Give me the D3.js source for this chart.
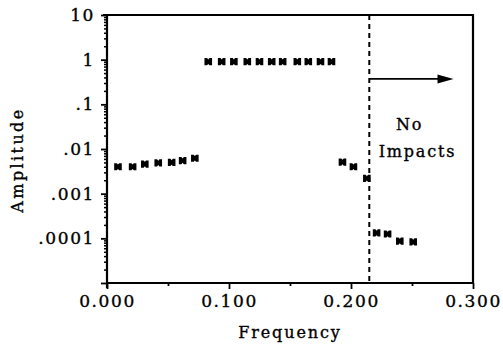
<!DOCTYPE html>
<html>
<head>
<meta charset="utf-8">
<script src="https://cdn.jsdelivr.net/npm/d3@7"></script>
<style>
  html, body { margin: 0; padding: 0; background: #fff; }
  svg { display: block; }
  text { font-family: "DejaVu Serif", serif; fill: #000; stroke: #000; stroke-width: 0.35px; }
</style>
</head>
<body>
<svg id="chart" width="503" height="347"></svg>
<script>
// ---- data ----
const frequency = [0.009, 0.021, 0.031, 0.042, 0.053, 0.062, 0.072,
  0.083, 0.094, 0.104, 0.115, 0.125, 0.135, 0.144, 0.156, 0.165, 0.175, 0.184,
  0.193, 0.202, 0.213,
  0.221, 0.230, 0.240, 0.251];
const amplitude = [0.0040, 0.0040, 0.0046, 0.0049, 0.0050, 0.0055, 0.0062,
  0.9, 0.9, 0.9, 0.9, 0.9, 0.9, 0.9, 0.9, 0.9, 0.9, 0.9,
  0.0051, 0.0040, 0.0022,
  0.000132, 0.000125, 0.000087, 0.000083];
const xTickValues = [0, 0.1, 0.2, 0.3];
const xTickLabels = ["0.000", "0.100", "0.200", "0.300"];
const xMinorTicks = [0.05, 0.15, 0.25];
const yTickValues = [10, 1, 0.1, 0.01, 0.001, 0.0001];
const yTickLabels = ["10", "1", ".1", ".01", ".001", ".0001"];
const cutoffFrequency = 0.215;
const arrowFrom = 0.215, arrowTo = 0.284, arrowAmp = 0.37;
const noteLines = ["No", "Impacts"];
const noteX = [0.248, 0.2545];
const noteY = [0.0267, 0.0066];

// ---- layout ----
const svg = d3.select("#chart");
const x = d3.scaleLinear().domain([0, 0.3]).range([107, 473]);
const y = d3.scaleLog().domain([1e-5, 10]).range([283, 15]);

// minor log ticks
const yMinor = [];
for (let e = -5; e < 1; e++) for (let m = 2; m <= 9; m++) yMinor.push(m * Math.pow(10, e));

const g = svg.append("g");

// Y axis minor
g.append("g").attr("transform", `translate(${x(0)},0)`)
  .call(d3.axisLeft(y).tickValues(yMinor).tickSize(3).tickFormat(""))
  .call(s => s.select(".domain").remove())
  .call(s => s.selectAll("line").attr("stroke", "#000").attr("stroke-width", 1.5));

// Y axis major
g.append("g").attr("transform", `translate(${x(0)},0)`)
  .call(d3.axisLeft(y).tickValues([1e-5].concat(yTickValues)).tickSize(6).tickPadding(6)
    .tickFormat(d => { const i = yTickValues.indexOf(d); return i < 0 ? "" : yTickLabels[i]; }))
  .call(s => s.select(".domain").attr("stroke", "#000").attr("stroke-width", 2.2).attr("d", `M0,${y(1e-5) + 5}V${y(10)}`))
  .call(s => s.selectAll("line").attr("stroke", "#000").attr("stroke-width", 1.8))
  .call(s => s.selectAll("text").style("font-size", "17px").style("letter-spacing", "1.6px")
     .style("font-family", "DejaVu Serif").attr("fill", "#000"));

// X axis
g.append("g").attr("transform", `translate(0,${y(1e-5)})`)
  .call(d3.axisBottom(x).tickValues(xTickValues).tickSize(6).tickPadding(6)
    .tickFormat((d, i) => xTickLabels[i]))
  .call(s => s.select(".domain").attr("stroke", "#000").attr("stroke-width", 2.2).attr("d", `M${x(0)},0H${x(0.3)}`))
  .call(s => s.selectAll("line").attr("stroke", "#000").attr("stroke-width", 1.8))
  .call(s => s.selectAll("text").style("font-size", "17px").style("letter-spacing", "1.6px")
     .style("font-family", "DejaVu Serif").attr("fill", "#000"));

g.append("g").attr("transform", `translate(0,${y(1e-5)})`)
  .call(d3.axisBottom(x).tickValues(xMinorTicks).tickSize(3).tickFormat(""))
  .call(s => s.select(".domain").remove())
  .call(s => s.selectAll("line").attr("stroke", "#000").attr("stroke-width", 1.8));

// frame top & right
g.append("path")
  .attr("d", `M${x(0) - 4},${y(10)}H${x(0.3)}V${y(1e-5)}`)
  .attr("fill", "none").attr("stroke", "#000").attr("stroke-width", 2.2);

// cutoff dashed line
g.append("line")
  .attr("x1", x(cutoffFrequency)).attr("x2", x(cutoffFrequency))
  .attr("y1", y(10)).attr("y2", y(1e-5))
  .attr("stroke", "#000").attr("stroke-width", 2).attr("stroke-dasharray", "5,4");

// arrow
g.append("line")
  .attr("x1", x(arrowFrom)).attr("x2", x(arrowTo) - 10)
  .attr("y1", y(arrowAmp)).attr("y2", y(arrowAmp))
  .attr("stroke", "#000").attr("stroke-width", 1.8);
g.append("path")
  .attr("d", `M${x(arrowTo)},${y(arrowAmp)}l-16,-4.5l0,9z`)
  .attr("fill", "#000");

// markers (notched block shape)
const marker = "M-3.8,-3.6L-1.2,-3.6L0,-2.2L1.2,-3.6L3.8,-3.6L3.8,3.6L1.2,3.6L0,2.2L-1.2,3.6L-3.8,3.6Z";
g.append("g").selectAll("path").data(frequency.map((f, i) => [f, amplitude[i]]))
  .join("path")
  .attr("transform", d => `translate(${x(d[0])},${y(d[1])})`)
  .attr("d", marker).attr("fill", "#000");

// annotation
g.append("g").selectAll("text").data(noteLines).join("text")
  .attr("x", (d, i) => x(noteX[i])).attr("y", (d, i) => y(noteY[i]))
  .attr("text-anchor", "middle")
  .style("font-size", "16px").style("letter-spacing", "1.8px")
  .text(d => d);

// axis titles
svg.append("text")
  .attr("x", 290).attr("y", 338).attr("text-anchor", "middle")
  .style("font-size", "16px").style("letter-spacing", "1.9px")
  .text("Frequency");
svg.append("text")
  .attr("transform", "translate(23,160) rotate(-90)").attr("text-anchor", "middle")
  .style("font-size", "16px").style("letter-spacing", "2.4px")
  .text("Amplitude");
</script>
</body>
</html>
